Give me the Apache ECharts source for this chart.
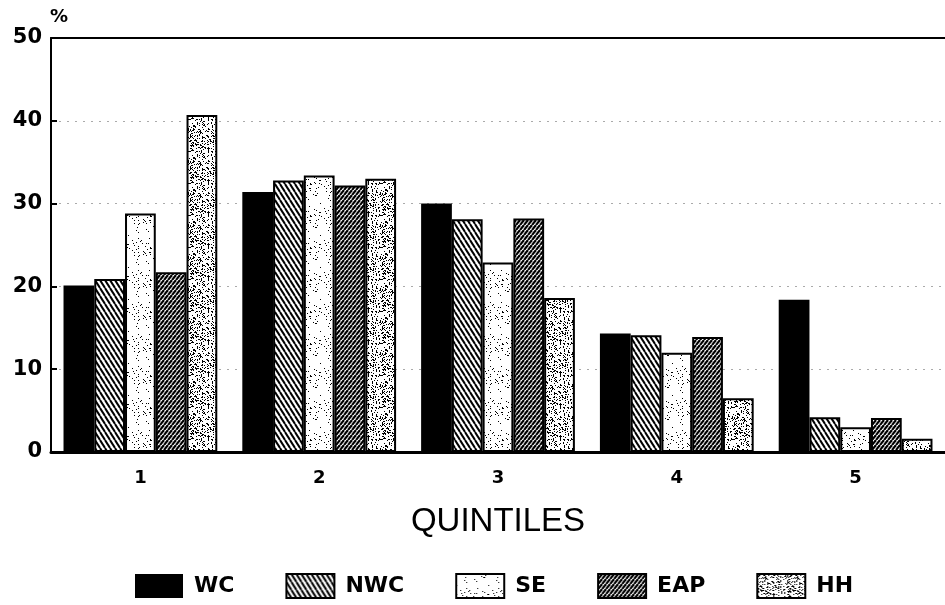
<!DOCTYPE html>
<html>
<head>
<meta charset="utf-8">
<script src="https://cdn.jsdelivr.net/npm/echarts@6/dist/echarts.min.js"></script>
<style>
html,body{margin:0;padding:0;background:#fff;}
#chart{width:945px;height:605px;}
</style>
</head>
<body>
<div id="chart"></div>
<script>
const categories = ['1', '2', '3', '4', '5'];
const seriesNames = ['WC', 'NWC', 'SE', 'EAP', 'HH'];
const wcValues  = [20.1, 31.4, 30.0, 14.3, 18.4];
const nwcValues = [20.9, 32.8, 28.1, 14.1, 4.2];
const seValues  = [28.8, 33.4, 22.9, 12.0, 3.0];
const eapValues = [21.7, 32.2, 28.2, 13.9, 4.1];
const hhValues  = [40.7, 33.0, 18.6, 6.5, 1.6];
const yTicks = [0, 10, 20, 30, 40, 50];

function tile(w, h, draw) {
  const c = document.createElement('canvas');
  c.width = w; c.height = h;
  const ctx = c.getContext('2d');
  ctx.fillStyle = '#fff';
  ctx.fillRect(0, 0, w, h);
  draw(ctx, w, h);
  return c;
}
function hash(i) {
  const s = Math.sin(i * 12.9898 + 78.233) * 43758.5453;
  return s - Math.floor(s);
}
// back-slash stripes (top-left to bottom-right)
const nwcTile = tile(5, 8, (ctx, w, h) => {
  ctx.strokeStyle = '#000'; ctx.lineWidth = 2;
  for (const o of [-w, 0, w]) {
    ctx.beginPath(); ctx.moveTo(o, 0); ctx.lineTo(o + w, h); ctx.stroke();
  }
});
// forward-slash stripes, denser
const eapTile = tile(4, 5, (ctx, w, h) => {
  ctx.strokeStyle = '#000'; ctx.lineWidth = 2.2;
  for (const o of [-w, 0, w]) {
    ctx.beginPath(); ctx.moveTo(o, h); ctx.lineTo(o + w, 0); ctx.stroke();
  }
});
function stipple(size, density, seed) {
  return tile(size, size, (ctx, w, h) => {
    ctx.fillStyle = '#000';
    let k = seed;
    for (let y = 0; y < h; y++) {
      for (let x = 0; x < w; x++) {
        k++;
        if (hash(k) < density) ctx.fillRect(x, y, 1, 1);
      }
    }
  });
}
const seTile = stipple(32, 0.06, 11);
const hhTile = stipple(32, 0.24, 503);

const fills = [
  '#000',
  { image: nwcTile, repeat: 'repeat' },
  { image: seTile, repeat: 'repeat' },
  { image: eapTile, repeat: 'repeat' },
  { image: hhTile, repeat: 'repeat' }
];
const values = [wcValues, nwcValues, seValues, eapValues, hhValues];

const LABEL_FONT = 'DejaVu Sans';
const TITLE_FONT = 'Liberation Sans';
const chart = echarts.init(document.getElementById('chart'));
chart.setOption({
  animation: false,
  backgroundColor: '#fff',
  textStyle: { fontFamily: LABEL_FONT, color: '#000' },
  grid: { left: 51, top: 38, width: 902, height: 414, containLabel: false },
  legend: {
    data: seriesNames,
    left: 130,
    top: 568,
    icon: 'rect',
    itemWidth: 48,
    itemHeight: 24,
    itemGap: 51,
    textStyle: { fontFamily: LABEL_FONT, fontWeight: 'bold', fontSize: 22, color: '#000', padding: [0, 0, 0, 6] }
  },
  graphic: [{
    type: 'text', left: 50, top: 8,
    style: { text: '%', font: 'bold 18px "DejaVu Sans"', fill: '#000' }
  }],
  xAxis: [{
    type: 'category',
    data: categories,
    axisLine: { show: true, lineStyle: { color: '#000', width: 3 } },
    axisTick: { show: false },
    axisLabel: { fontFamily: LABEL_FONT, fontWeight: 'bold', fontSize: 18, color: '#000', margin: 17 },
    name: 'QUINTILES',
    nameLocation: 'middle',
    nameGap: 53,
    nameTextStyle: { fontFamily: TITLE_FONT, fontSize: 33, color: '#000' }
  }, {
    type: 'category',
    data: categories,
    position: 'top',
    axisLine: { show: true, lineStyle: { color: '#000', width: 2 } },
    axisTick: { show: false },
    axisLabel: { show: false }
  }],
  yAxis: {
    type: 'value',
    min: yTicks[0],
    max: yTicks[yTicks.length - 1],
    interval: 10,
    axisLine: { show: true, lineStyle: { color: '#000', width: 2 } },
    axisTick: { show: true, inside: true, length: 6, lineStyle: { color: '#000', width: 2 } },
    axisLabel: { fontFamily: LABEL_FONT, fontWeight: 'bold', fontSize: 21, color: '#000', margin: 9 },
    splitLine: { show: true, lineStyle: { color: '#aaa', width: 1, type: [2, 6] } }
  },
  series: seriesNames.map((n, i) => ({
    name: n,
    type: 'bar',
    xAxisIndex: 0,
    data: values[i],
    barGap: '0%',
    barCategoryGap: '14%',
    itemStyle: { color: fills[i], borderColor: '#000', borderWidth: i === 0 ? 0 : 2 }
  }))
});
</script>
</body>
</html>
